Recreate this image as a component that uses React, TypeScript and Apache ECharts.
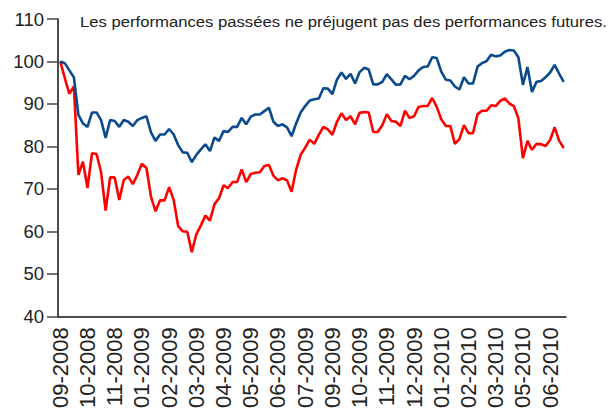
import React, { useEffect, useRef } from "react";
import * as echarts from "echarts";

const tickLabels = [
  "09-2008", "10-2008", "11-2008", "01-2009", "02-2009", "03-2009", "04-2009",
  "05-2009", "06-2009", "07-2009", "09-2009", "10-2009", "11-2009", "12-2009",
  "01-2010", "02-2010", "03-2010", "05-2010", "06-2010",
];

const blueSeries = [
  100, 99.6, 97.9, 96.3, 87.4, 85.4, 84.6, 88, 88, 86.2,
  82, 86.2, 86, 84.6, 86.2, 85.8, 84.8, 86.2, 86.7, 87.1,
  83.3, 81.3, 82.8, 82.8, 84.1, 82.8, 80.3, 78.6, 78.5, 76.3,
  78, 79.3, 80.5, 78.9, 82.1, 81.3, 83.6, 83.4, 84.6, 84.6,
  86.7, 85.2, 87, 87.5, 87.5, 88.3, 89.1, 85.8, 84.8, 85.2,
  84.5, 82.4, 85.4, 88, 89.5, 90.8, 91.1, 91.3, 93.7, 93.6,
  92.3, 95.7, 97.4, 95.9, 97.1, 94.8, 97.5, 98.5, 98.1, 94.6,
  94.6, 95.2, 97, 95.8, 94.5, 94.6, 96.6, 95.8, 96.6, 97.9,
  98.7, 98.8, 101, 100.8, 97.6, 95.7, 95.5, 94.1, 93.4, 96.3,
  94.8, 94.8, 98.8, 99.6, 100.1, 101.6, 101.2, 101.4, 102.3, 102.7,
  102.6, 101, 94.5, 98.7, 92.8, 95.2, 95.4, 96.3, 97.4, 99.2,
  97.1, 95.2,
];

const redSeries = [
  100, 96.1, 92.4, 94.1, 73.3, 76.4, 70.2, 78.4, 78.2, 73.9,
  64.9, 72.7, 72.7, 67.4, 72.1, 72.9, 71.1, 73.3, 75.9, 74.9,
  68.2, 64.7, 67.3, 67.3, 70.4, 67.4, 61.2, 60, 59.9, 55.1,
  59.3, 61.4, 63.7, 62.5, 66.4, 67.8, 70.8, 70.2, 71.6, 71.6,
  74.6, 71.6, 73.5, 73.8, 73.9, 75.4, 75.6, 73.1, 72, 72.5,
  72, 69.3, 74.5, 78, 79.7, 81.6, 80.6, 82.7, 84.6, 84,
  82.7, 85.8, 87.8, 86.2, 87.1, 85.2, 87.9, 88.1, 88, 83.4,
  83.4, 85, 87.6, 86, 85.8, 84.8, 88.4, 86.7, 87.1, 89.3,
  89.5, 89.5, 91.4, 89.3, 86.4, 84.8, 84.8, 80.6, 81.7, 85,
  83.1, 83.1, 87.6, 88.4, 88.4, 89.7, 89.5, 90.7, 91.3, 90.1,
  89.5, 86.6, 77.2, 81.3, 79.2, 80.6, 80.5, 80.1, 81.5, 84.5,
  81.3, 79.6,
];

const titleText = "Les performances passées ne préjugent pas des performances futures.";

const categories = blueSeries.map(
  (_, i) => `${tickLabels[Math.floor(i / 6)] ?? ""}|${i}`
);

export default function App() {
  const ref = useRef<HTMLDivElement>(null);
  useEffect(() => {
    if (!ref.current) return;
    const chart = echarts.init(ref.current, null, { renderer: "svg" });
    chart.setOption({
      animation: false,
      backgroundColor: "#ffffff",
      textStyle: { fontFamily: "Liberation Sans, Arial, sans-serif" },
      graphic: [
        {
          type: "text",
          x: 80,
          y: 14,
          scaleX: 1.15,
          style: {
            text: titleText,
            fontSize: 14.5,
            fill: "#222222",
            fontFamily: "Liberation Sans, Arial, sans-serif",
            textAlign: "left",
            textVerticalAlign: "top",
          },
        },
      ],
      grid: { left: 58, right: 45, top: 19, bottom: 93, containLabel: false },
      xAxis: {
        type: "category",
        data: categories,
        boundaryGap: true,
        axisLine: { lineStyle: { color: "#111111", width: 1.5 } },
        axisTick: { show: false },
        axisLabel: {
          interval: 5,
          rotate: 90,
          margin: 11,
          fontSize: 22,
          color: "#222222",
          formatter: (v: string) => v.split("|")[0],
        },
        splitLine: { show: false },
      },
      yAxis: {
        type: "value",
        min: 40,
        max: 110,
        interval: 10,
        axisLine: { show: true, lineStyle: { color: "#111111", width: 1.5 } },
        axisTick: { show: true, length: 11, lineStyle: { color: "#444444", width: 1.5 } },
        axisLabel: { fontSize: 18.5, color: "#222222", margin: 14 },
        splitLine: { show: false },
      },
      series: [
        {
          type: "line",
          data: redSeries,
          symbol: "none",
          lineStyle: { color: "#ff0000", width: 2.6 },
          z: 2,
        },
        {
          type: "line",
          data: blueSeries,
          symbol: "none",
          lineStyle: { color: "#0b4a8c", width: 2.6 },
          z: 3,
        },
      ],
    });
    return () => chart.dispose();
  }, []);
  return <div ref={ref} style={{ width: 611, height: 411, position: "absolute", left: 0, top: 0 }} />;
}
